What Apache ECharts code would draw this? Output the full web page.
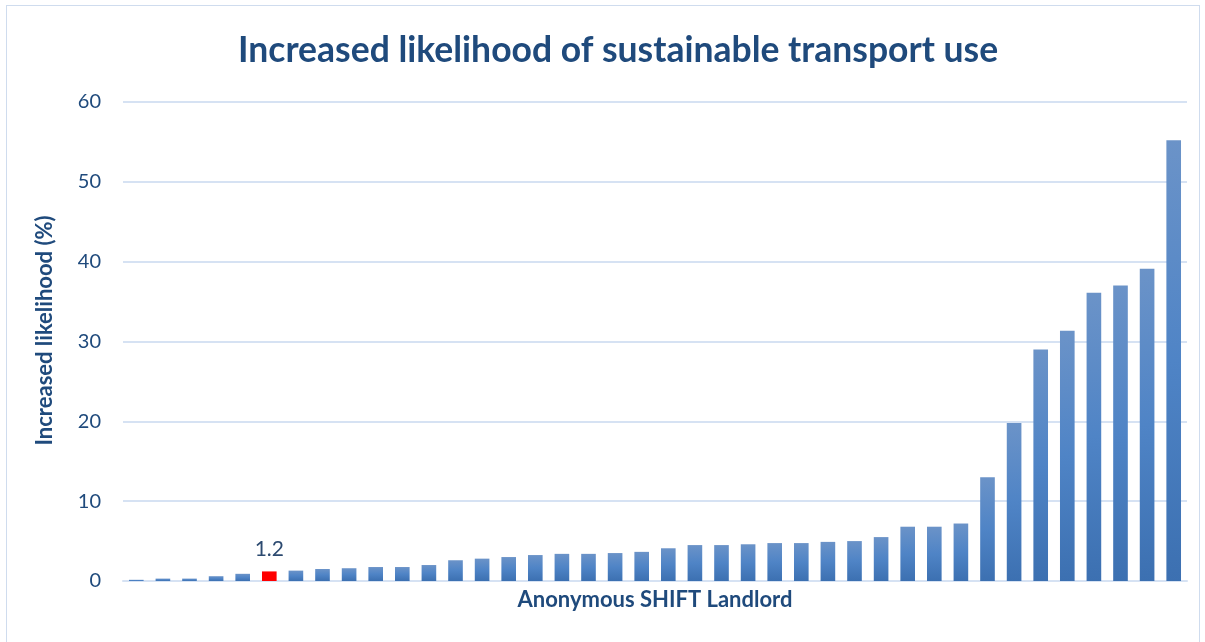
<!DOCTYPE html>
<html><head><meta charset="utf-8">
<script src="https://cdn.jsdelivr.net/npm/echarts@6/dist/echarts.min.js"></script>
<style>html,body{margin:0;padding:0;background:#fff;}#c{width:1205px;height:642px;}
#frame{position:absolute;left:6px;top:5px;width:1192px;height:660px;border:1px solid #cfdcee;pointer-events:none;}</style>
</head><body><div id="c"></div><div id="frame"></div>
<script>
const title = 'Increased likelihood of sustainable transport use';
const yAxisName = 'Increased likelihood (%)';
const xAxisName = 'Anonymous SHIFT Landlord';
const landlords = Array.from({length: 40}, (_, i) => 'L' + (i + 1));
const values = [0.15, 0.3, 0.3, 0.6, 0.9, 1.2, 1.3, 1.5, 1.6, 1.75,
  1.75, 2.0, 2.6, 2.8, 3.0, 3.25, 3.4, 3.4, 3.5, 3.65,
  4.1, 4.5, 4.5, 4.6, 4.75, 4.75, 4.9, 5.0, 5.5, 6.8,
  6.8, 7.2, 13.0, 19.8, 29.0, 31.35, 36.1, 37.0, 39.1, 55.2];
const highlightIndex = 5;
const yTicks = {min: 0, max: 60, interval: 10};

const font = 'Lato, "Open Sans", sans-serif';
const textColor = '#1f4a7c';
const grad = new echarts.graphic.LinearGradient(0, 0, 0, 1, [
  {offset: 0, color: '#6b93c8'}, {offset: 0.5, color: '#4f84c6'}, {offset: 1, color: '#3c70b1'}]);
const chart = echarts.init(document.getElementById('c'));
chart.setOption({
  animation: false,
  title: {text: title, left: 233, top: 28,
    textStyle: {fontFamily: font, fontWeight: 'bold', fontSize: 35.5, color: textColor}},
  grid: {left: 123, right: 18, top: 102, bottom: 61},
  xAxis: {type: 'category', data: landlords,
    name: xAxisName, nameLocation: 'middle', nameGap: 8,
    nameTextStyle: {fontFamily: font, fontWeight: 'bold', fontSize: 22, color: textColor},
    axisLine: {lineStyle: {color: '#d6e2f3', width: 2}}, axisTick: {show: false}, axisLabel: {show: false}},
  yAxis: {type: 'value', min: yTicks.min, max: yTicks.max, interval: yTicks.interval,
    name: yAxisName, nameLocation: 'middle', nameGap: 67, nameRotate: 90,
    nameTextStyle: {fontFamily: font, fontWeight: 'bold', fontSize: 22, color: textColor, padding: [0, 0, 0, 22]},
    axisLabel: {fontFamily: font, fontSize: 20, color: textColor, margin: 22},
    axisLine: {show: false}, axisTick: {show: false},
    splitLine: {lineStyle: {color: '#d6e2f3', width: 2}}},
  series: [{type: 'bar', barWidth: '55%',
    data: values.map((v, i) => i === highlightIndex ?
      {value: v, itemStyle: {color: '#ff0000'},
       label: {show: true, position: 'top', distance: 12, fontFamily: font, fontSize: 21, color: '#2c4a70'}} :
      {value: v}),
    itemStyle: {color: grad}}]
});
</script></body></html>
